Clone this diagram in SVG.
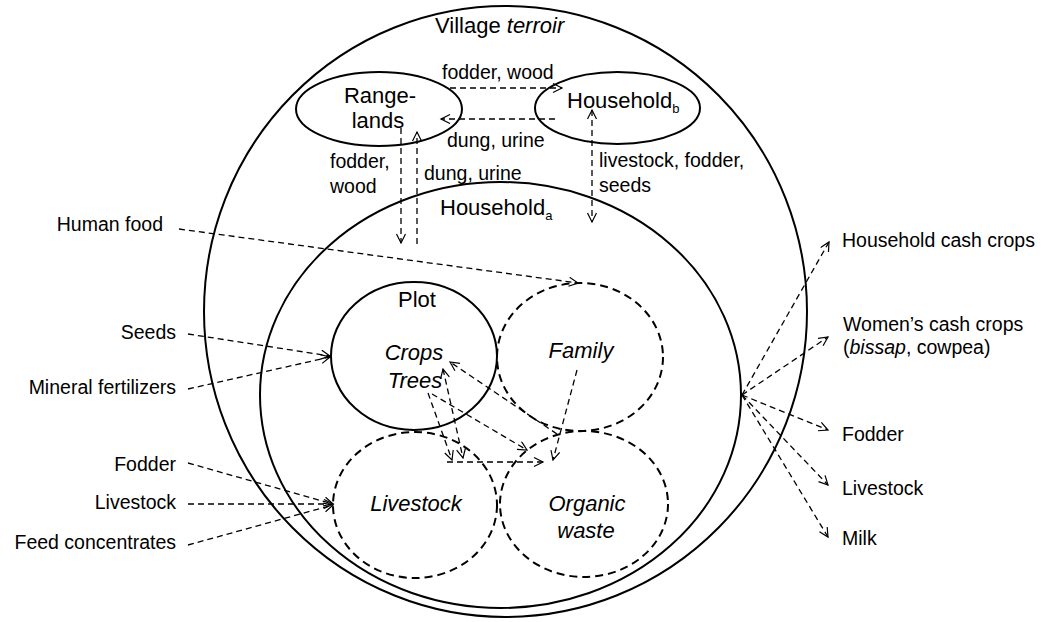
<svg xmlns="http://www.w3.org/2000/svg" width="1045" height="622" viewBox="0 0 1045 622">
<style>
.bg{fill:#fff}
.solid{fill:none;stroke:#000;stroke-width:2}
.dnode{fill:none;stroke:#000;stroke-width:2;stroke-dasharray:8 5}
.c{fill:none;stroke:#000;stroke-width:1.3;stroke-dasharray:6 4;marker-end:url(#ah)}
.cb{fill:none;stroke:#000;stroke-width:1.3;stroke-dasharray:6 4;marker-end:url(#ah);marker-start:url(#ah)}
text{font-family:"Liberation Sans",Arial,sans-serif;fill:#000}
.n{font-size:22px}
.e{font-size:19.5px}
.i{font-style:italic}
.sub{font-size:13px}
</style>
<defs>
<marker id="ah" markerWidth="12" markerHeight="12" refX="10" refY="5" orient="auto-start-reverse" markerUnits="userSpaceOnUse">
<path d="M1,0.5 L10,5 L1,9.5" fill="none" stroke="#000" stroke-width="1.2"/>
</marker>
</defs>
<rect class="bg" x="0" y="0" width="1045" height="622"/>

<g id="village">
<ellipse class="solid" cx="505.5" cy="311.5" rx="301.5" ry="305.5"/>
<text class="n" x="435" y="33">Village <tspan class="i">terroir</tspan></text>
</g>
<g id="household-a">
<ellipse class="solid" cx="500.5" cy="395" rx="240.5" ry="213"/>
<text class="n" x="440" y="215">Household<tspan class="sub" dy="5">a</tspan></text>
</g>
<g id="rangelands">
<ellipse class="solid" cx="379" cy="109" rx="83" ry="37"/>
<text class="n" x="380" y="103" text-anchor="middle">Range-</text>
<text class="n" x="378" y="128" text-anchor="middle">lands</text>
</g>
<g id="household-b">
<ellipse class="solid" cx="617.5" cy="108" rx="82.5" ry="36"/>
<text class="n" x="567" y="108">Household<tspan class="sub" dy="5">b</tspan></text>
</g>
<g id="plot">
<ellipse class="solid" cx="414" cy="356" rx="83" ry="74"/>
<text class="n" x="417" y="307" text-anchor="middle">Plot</text>
<text class="n i" x="414" y="360" text-anchor="middle">Crops</text>
<text class="n i" x="415" y="388" text-anchor="middle">Trees</text>
</g>
<g id="family">
<ellipse class="dnode" cx="580" cy="357" rx="83" ry="74"/>
<text class="n i" x="581" y="358" text-anchor="middle">Family</text>
</g>
<g id="livestock">
<ellipse class="dnode" cx="415" cy="505" rx="82" ry="73"/>
<text class="n i" x="416" y="511" text-anchor="middle">Livestock</text>
</g>
<g id="organic-waste">
<ellipse class="dnode" cx="584" cy="504" rx="84" ry="73"/>
<text class="n i" x="587" y="511" text-anchor="middle">Organic</text>
<text class="n i" x="586" y="538" text-anchor="middle">waste</text>
</g>

<g id="connectors">
<line class="c" x1="450" y1="88" x2="562" y2="88"/>
<line class="c" x1="555" y1="119" x2="441" y2="119"/>
<line class="c" x1="401" y1="128" x2="401" y2="243"/>
<line class="c" x1="417" y1="244" x2="417" y2="132"/>
<line class="cb" x1="592" y1="110" x2="592" y2="222"/>

<line class="c" x1="179" y1="229" x2="578" y2="283"/>
<line class="c" x1="188" y1="334" x2="330" y2="356"/>
<line class="c" x1="188" y1="389" x2="330" y2="357"/>
<line class="c" x1="188" y1="463" x2="333" y2="504"/>
<line class="c" x1="188" y1="504" x2="333" y2="504"/>
<line class="c" x1="188" y1="545" x2="333" y2="505"/>

<line class="c" x1="742" y1="395" x2="829" y2="242"/>
<line class="c" x1="742" y1="395" x2="828" y2="337"/>
<line class="c" x1="742" y1="395" x2="828" y2="430"/>
<line class="c" x1="742" y1="395" x2="828" y2="485"/>
<line class="c" x1="742" y1="395" x2="828" y2="537"/>

<line class="c" x1="428" y1="393" x2="452" y2="460"/>
<line class="cb" x1="443" y1="369" x2="463" y2="458"/>
<line class="c" x1="432" y1="394" x2="527" y2="450"/>
<line class="c" x1="557" y1="434" x2="450" y2="362"/>
<line class="c" x1="577" y1="370" x2="553" y2="460"/>
<line class="c" x1="447" y1="462" x2="543" y2="462"/>
</g>

<g id="labels">
<text class="e" x="442" y="79">fodder, wood</text>
<text class="e" x="447" y="147">dung, urine</text>
<text class="e" x="330" y="168">fodder,</text>
<text class="e" x="330" y="193">wood</text>
<text class="e" x="424" y="180">dung, urine</text>
<text class="e" x="599" y="167">livestock, fodder,</text>
<text class="e" x="599" y="192">seeds</text>

<text class="e" x="163" y="231" text-anchor="end">Human food</text>
<text class="e" x="176" y="339" text-anchor="end">Seeds</text>
<text class="e" x="176" y="394" text-anchor="end">Mineral fertilizers</text>
<text class="e" x="176" y="471" text-anchor="end">Fodder</text>
<text class="e" x="176" y="509" text-anchor="end">Livestock</text>
<text class="e" x="176" y="549" text-anchor="end">Feed concentrates</text>

<text class="e" x="842" y="247">Household cash crops</text>
<text class="e" x="843" y="331">Women’s cash crops</text>
<text class="e" x="843" y="354">(<tspan class="i">bissap</tspan>, cowpea)</text>
<text class="e" x="842" y="441">Fodder</text>
<text class="e" x="842" y="495">Livestock</text>
<text class="e" x="842" y="545">Milk</text>
</g>
</svg>
